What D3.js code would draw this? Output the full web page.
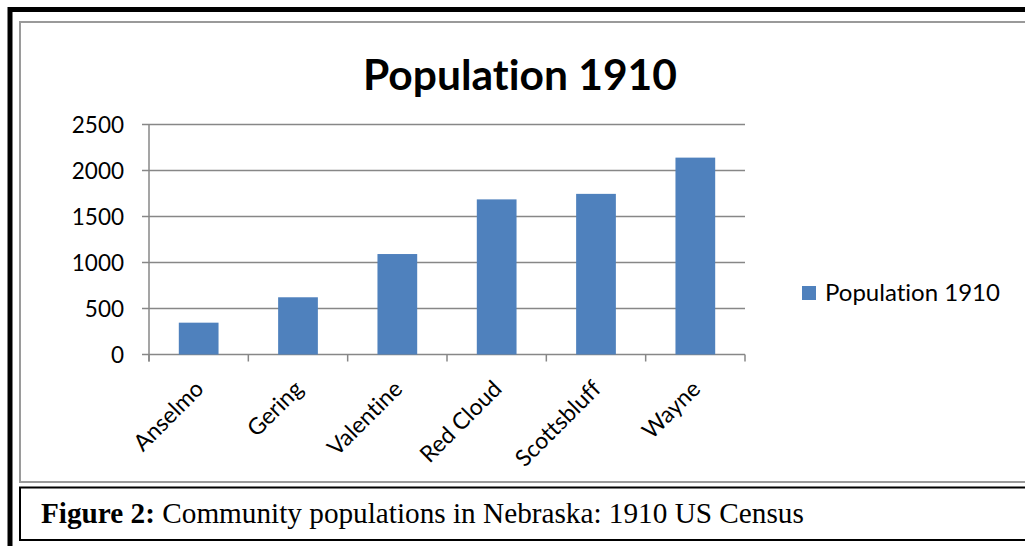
<!DOCTYPE html>
<html>
<head>
<meta charset="utf-8">
<script src="https://cdn.jsdelivr.net/npm/d3@7"></script>
<style>
  body { margin: 0; background: #fff; }
  svg { display: block; }
  text { font-variant-ligatures: none; }
</style>
</head>
<body>
<script>
// Datos
const pueblos = ["Anselmo", "Gering", "Valentine", "Red Cloud", "Scottsbluff", "Wayne"];
const poblacion = [346, 622, 1092, 1686, 1746, 2140];
const ticksY = [0, 500, 1000, 1500, 2000, 2500];
const titulo = "Population 1910";
const serie = "Population 1910";

const svg = d3.select("body").append("svg")
  .attr("width", 1025).attr("height", 546);

// ajusta el tamaño de letra para que el texto ocupe un ancho dado
function ajustar(sel, ancho) {
  const n = sel.node();
  const size = parseFloat(sel.attr("font-size"));
  const w = n.getComputedTextLength();
  sel.attr("font-size", size * ancho / w);
}

// marco exterior negro
svg.append("rect")
  .attr("x", 10).attr("y", 9.5).attr("width", 1100).attr("height", 600)
  .attr("fill", "none").attr("stroke", "#000").attr("stroke-width", 5);

// borde gris del gráfico
svg.append("rect")
  .attr("x", 20).attr("y", 22).attr("width", 1100).attr("height", 460)
  .attr("fill", "#fff").attr("stroke", "#9a9a9a").attr("stroke-width", 2);

// caja del pie de figura
svg.append("rect")
  .attr("x", 20).attr("y", 487.5).attr("width", 1100).attr("height", 52.5)
  .attr("fill", "#fff").attr("stroke", "#000").attr("stroke-width", 2);

const margen = { left: 149, right: 745, top: 124.5, bottom: 354.5 };

const x = d3.scaleBand()
  .domain(pueblos)
  .range([margen.left, margen.right])
  .paddingInner(0.6)
  .paddingOuter(0.3);

const y = d3.scaleLinear()
  .domain([0, 2500])
  .range([margen.bottom, margen.top]);

// líneas de la cuadrícula
svg.append("g")
  .selectAll("line")
  .data(ticksY)
  .join("line")
  .attr("x1", margen.left - 7).attr("x2", margen.right)
  .attr("y1", d => y(d)).attr("y2", d => y(d))
  .attr("stroke", "#878787").attr("stroke-width", 1.5);

// eje y
svg.append("line")
  .attr("x1", margen.left).attr("x2", margen.left)
  .attr("y1", margen.top).attr("y2", margen.bottom + 7)
  .attr("stroke", "#878787").attr("stroke-width", 1.5);

svg.append("g")
  .selectAll("text")
  .data(ticksY)
  .join("text")
  .attr("x", 124).attr("y", d => y(d))
  .attr("dy", "0.36em")
  .attr("text-anchor", "end")
  .attr("font-family", "Lato")
  .attr("font-size", 22.5)
  .attr("fill", "#000")
  .text(d => d);

// marcas del eje x en los bordes de cada banda
const bordes = pueblos.map(p => x(p) - x.step() * x.paddingOuter()).concat([margen.right]);
svg.append("g")
  .selectAll("line")
  .data(bordes)
  .join("line")
  .attr("x1", d => d).attr("x2", d => d)
  .attr("y1", margen.bottom).attr("y2", margen.bottom + 7)
  .attr("stroke", "#878787").attr("stroke-width", 1.5);

// barras
svg.append("g")
  .selectAll("rect")
  .data(pueblos)
  .join("rect")
  .attr("x", d => x(d))
  .attr("width", x.bandwidth())
  .attr("y", (d, i) => y(poblacion[i]))
  .attr("height", (d, i) => y(0) - y(poblacion[i]))
  .attr("fill", "#4f81bd");

// etiquetas del eje x giradas
svg.append("g")
  .selectAll("text")
  .data(pueblos)
  .join("text")
  .attr("text-anchor", "end")
  .attr("font-family", "Lato")
  .attr("font-size", 23)
  .attr("transform", d => `translate(${x(d) + x.bandwidth() / 2 - 5},${379}) rotate(-45)`)
  .attr("dy", "0.7em")
  .text(d => d);

// título
const t = svg.append("text")
  .attr("x", 520).attr("y", 90)
  .attr("text-anchor", "middle")
  .attr("font-family", "Lato")
  .attr("font-weight", "bold")
  .attr("font-size", 44)
  .text(titulo);
ajustar(t, 314);

// leyenda
svg.append("rect")
  .attr("x", 802).attr("y", 286).attr("width", 14).attr("height", 14)
  .attr("fill", "#4f81bd");
const l = svg.append("text")
  .attr("x", 825).attr("y", 301)
  .attr("font-family", "Lato")
  .attr("font-size", 22)
  .text(serie);
ajustar(l, 175);

// pie de figura
const pie = svg.append("text")
  .attr("x", 41).attr("y", 523)
  .attr("font-family", "Liberation Serif")
  .attr("font-size", 26);
pie.append("tspan").attr("font-weight", "bold").text("Figure 2:");
pie.append("tspan").text(" Community populations in Nebraska: 1910 US Census");
ajustar(pie, 763);
</script>
</body>
</html>
